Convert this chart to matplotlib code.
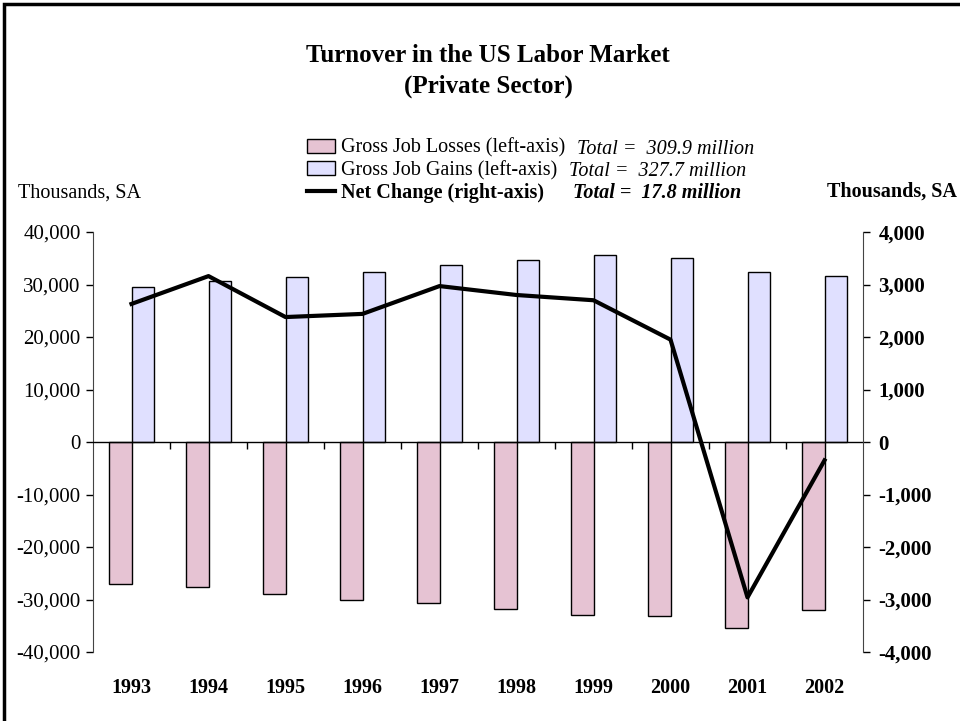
import matplotlib
matplotlib.use("Agg")
import matplotlib.pyplot as plt
import numpy as np
from matplotlib.lines import Line2D
from matplotlib.patches import Patch, Rectangle
from matplotlib.ticker import FuncFormatter

plt.rcParams["font.family"] = ["Liberation Serif", "DejaVu Serif"]

years = ["1993", "1994", "1995", "1996", "1997", "1998", "1999", "2000", "2001", "2002"]
job_losses = [-27000, -27700, -29000, -30100, -30700, -31800, -32900, -33200, -35400, -32000]
job_gains = [29600, 30700, 31400, 32400, 33700, 34600, 35600, 35100, 32400, 31700]
net_change = [2630, 3160, 2380, 2440, 2970, 2800, 2700, 1950, -2960, -350]

labels = ["Gross Job Losses (left-axis)", "Gross Job Gains (left-axis)", "Net Change (right-axis)"]
totals = ["Total =  309.9 million", "Total =  327.7 million", "Total =  17.8 million"]

loss_color = "#E6C3D3"
gain_color = "#E0E0FF"

W, H = 960, 721
fig = plt.figure(figsize=(W / 100, H / 100), dpi=100)
ax = fig.add_axes([93 / W, 1 - 652 / H, (863 - 93) / W, (652 - 232) / H])

x = np.arange(len(years))
w = 0.286
ax.bar(x - w / 2, job_losses, w, color=loss_color, edgecolor="black", linewidth=1)
ax.bar(x + w / 2, job_gains, w, color=gain_color, edgecolor="black", linewidth=1)
ax.axhline(0, color="black", lw=1, zorder=3)

ax.set_xlim(-0.5, len(years) - 0.5)
ax.set_ylim(-40000, 40000)
ax.set_yticks(np.arange(-40000, 40001, 10000))
ax.yaxis.set_major_formatter(FuncFormatter(lambda v, p: f"{v:,.0f}"))
ax.tick_params(axis="y", direction="out", length=5, width=1, pad=4, labelsize=15)
ax.set_xticks(x, years)
ax.tick_params(axis="x", length=0, pad=19, labelsize=14.5)
for t in ax.get_xticklabels():
    t.set_fontweight("bold")
for s in ["top", "bottom", "right"]:
    ax.spines[s].set_visible(False)
ax.spines["left"].set_color("#444444")

# little ticks on the zero line between the years
sec = ax.secondary_xaxis(0, transform=ax.transData)
sec.set_xticks(x[:-1] + 0.5, labels=[])
sec.tick_params(direction="out", length=5, width=1)
sec.spines["bottom"].set_visible(False)

ax2 = ax.twinx()
ax2.plot(x, net_change, color="black", lw=3)
ax2.set_ylim(-4000, 4000)
ax2.set_yticks(np.arange(-4000, 4001, 1000))
ax2.yaxis.set_major_formatter(FuncFormatter(lambda v, p: f"{v:,.0f}"))
ax2.tick_params(axis="y", direction="out", length=5, width=1, pad=6, labelsize=15)
for t in ax2.get_yticklabels():
    t.set_fontweight("bold")
for s in ["top", "bottom", "left"]:
    ax2.spines[s].set_visible(False)
ax2.spines["right"].set_color("#444444")

fig.text(488 / W, 1 - 55 / H, "Turnover in the US Labor Market", ha="center", va="center",
         fontsize=18, fontweight="bold")
fig.text(488 / W, 1 - 86 / H, "(Private Sector)", ha="center", va="center",
         fontsize=18, fontweight="bold")

fig.text(18 / W, 1 - 193 / H, "Thousands, SA", ha="left", va="center", fontsize=14.5)
fig.text(957 / W, 1 - 192 / H, "Thousands, SA", ha="right", va="center", fontsize=14.5,
         fontweight="bold")

handles = [
    Patch(facecolor=loss_color, edgecolor="black", linewidth=1),
    Patch(facecolor=gain_color, edgecolor="black", linewidth=1),
    Line2D([], [], color="black", lw=3),
]
leg = fig.legend(handles, labels, loc="center left", bbox_to_anchor=(307 / W, 1 - 171 / H),
                 frameon=False, fontsize=14.5, handlelength=1.4, handleheight=0.7,
                 handletextpad=0.3, labelspacing=0.15, borderaxespad=0, borderpad=0)
leg.get_texts()[2].set_fontweight("bold")

rows_y = [149, 171, 193]
rows_x = [577, 569, 573]
for i, (txt, xx, yy) in enumerate(zip(totals, rows_x, rows_y)):
    fig.text(xx / W, 1 - yy / H, txt, ha="left", va="center", fontsize=14.5, style="italic",
             fontweight="bold" if i == 2 else "normal")

fig.patches.append(Rectangle((4 / W, -0.05), 1.2, 1.05 - 4 / H, transform=fig.transFigure,
                             fill=False, edgecolor="black", linewidth=2.5))

fig.savefig("out.png", dpi=100)
